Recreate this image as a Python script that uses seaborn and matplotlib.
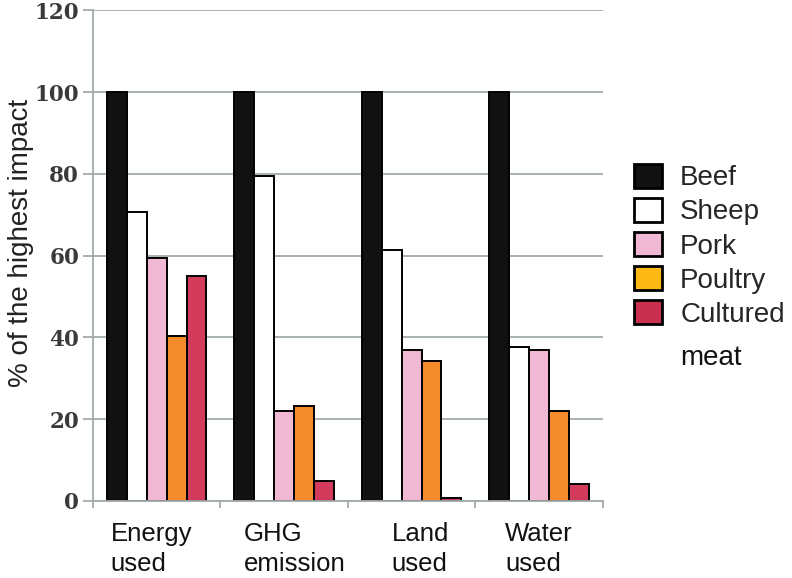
import matplotlib
matplotlib.use("Agg")
import matplotlib.pyplot as plt
from matplotlib.patches import Patch
import seaborn as sns
import pandas as pd

categories = ["Energy\nused", "GHG\nemission", "Land\nused", "Water\nused"]
meats = ["Beef", "Sheep", "Pork", "Poultry", "Cultured\nmeat"]
beef = [100, 100, 100, 100]
sheep = [70.6, 79.4, 61.3, 37.6]
pork = [59.3, 22.0, 37.0, 37.0]
poultry = [40.3, 23.2, 34.1, 21.9]
cultured = [55.1, 4.9, 0.6, 4.1]
yticks = [0, 20, 40, 60, 80, 100, 120]

series = [beef, sheep, pork, poultry, cultured]
rows = []
for m, vals in zip(meats, series):
    for c, v in zip(categories, vals):
        rows.append({"category": c, "meat": m, "value": v})
df = pd.DataFrame(rows)

bar_colors = ["#111111", "#ffffff", "#f0b8d2", "#f38b2c", "#d23b5c"]
legend_colors = ["#111111", "#ffffff", "#f0b8d2", "#fdb813", "#c9304f"]
label_nudge = [-0.04, 0.08, 0.07, 0.0]

sns.set_theme(style="white")
plt.rcParams["font.family"] = ["Liberation Sans", "DejaVu Sans"]

fig = plt.figure(figsize=(7.92, 5.78), dpi=100)
ax = fig.add_axes([0.1174, 0.1337, 0.761 - 0.1174, 0.982 - 0.1337])

sns.barplot(data=df, x="category", y="value", hue="meat", order=categories,
            hue_order=meats, palette=bar_colors, width=0.78, ax=ax,
            edgecolor="black", linewidth=1.4, legend=False, saturation=1)

ax.set_ylim(0, 120)
ax.set_xlim(-0.5, 3.5)
ax.set_yticks(yticks)
ax.set_yticklabels([str(t) for t in yticks], fontfamily="DejaVu Serif",
                   fontweight="bold", fontsize=15.5, color="#3a3a3a")
ax.yaxis.grid(True, color="#a3aaaa", linewidth=1.3)
ax.set_axisbelow(True)
for s in ["top", "right"]:
    ax.spines[s].set_visible(False)
for s in ["left", "bottom"]:
    ax.spines[s].set_color("#a3aaaa")
    ax.spines[s].set_linewidth(1.3)
ax.tick_params(axis="y", left=True, length=7, width=1.3, color="#a3aaaa", pad=3)
ax.set_xticks([-0.5, 0.5, 1.5, 2.5, 3.5])
ax.set_xticklabels([])
ax.tick_params(axis="x", bottom=True, length=5, width=1.3, color="#a3aaaa")
ax.set_xlabel("")
ax.set_ylabel("")
fig.text(21 / 792, 1 - 243 / 578, "% of the highest impact", rotation=90,
         ha="center", va="center", fontsize=20, color="#222222")

for i, c in enumerate(categories):
    ax.text(i + label_nudge[i], -5.2, c, ha="center", va="top", multialignment="left",
            fontsize=18.5, color="#111111", linespacing=1.3, transform=ax.transData)

legend_labels = [m.split("\n")[0] for m in meats]
handles = [Patch(facecolor=col, edgecolor="black", linewidth=2) for col in legend_colors]
leg = fig.legend(handles, legend_labels, loc="upper left", bbox_to_anchor=(0.787, 0.736),
                 frameon=False, fontsize=20, handlelength=1.0, handleheight=0.95,
                 handletextpad=0.65, labelspacing=0.24, borderaxespad=0)
fig.canvas.draw()
last = leg.get_texts()[-1]
bb = last.get_window_extent()
fig.text(bb.x0 / 792, (bb.y0 - 17) / 578, meats[-1].split("\n")[1],
         ha="left", va="top", fontsize=20, color="#111111")

fig.savefig("out.png", dpi=100, facecolor="white")
